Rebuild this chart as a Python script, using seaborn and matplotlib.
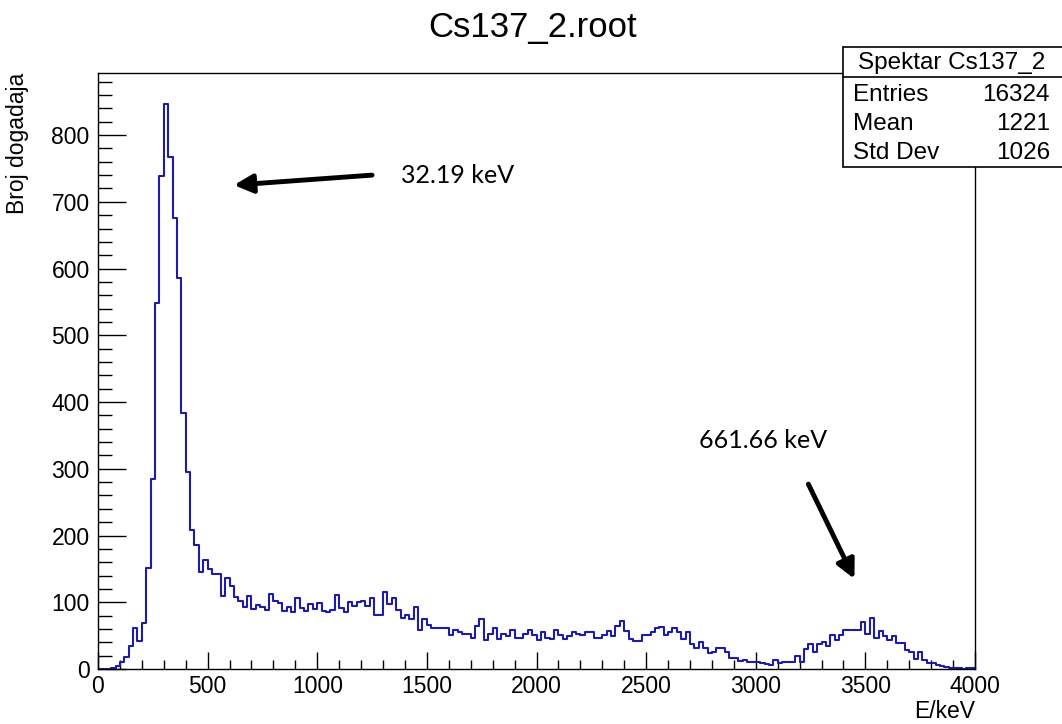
import numpy as np
import pandas as pd
import matplotlib
matplotlib.use("Agg")
import matplotlib.pyplot as plt
from matplotlib.patches import Rectangle
from matplotlib.lines import Line2D
import seaborn as sns

# 200 bins of 20 keV from 0 to 4000
bin_width = 20
centers = np.arange(0, 4000, bin_width) + bin_width / 2

# counts, one per bin
counts = [
    0, 0, 0, 2, 5, 10, 18, 34, 62, 42,
    69, 151, 284, 548, 739, 847, 767, 675, 586, 384,
    295, 208, 186, 145, 164, 150, 143, 143, 110, 136,
    124, 108, 102, 93, 110, 90, 96, 93, 88, 113,
    102, 99, 87, 93, 86, 107, 91, 87, 98, 90,
    99, 87, 85, 88, 111, 91, 85, 101, 95, 100,
    102, 95, 106, 81, 81, 115, 97, 106, 88, 76,
    81, 75, 93, 59, 75, 66, 61, 62, 62, 62,
    51, 59, 55, 53, 52, 47, 64, 75, 44, 52,
    61, 45, 52, 50, 58, 46, 46, 52, 58, 51,
    43, 55, 46, 45, 58, 51, 45, 50, 56, 53,
    51, 56, 56, 47, 47, 51, 57, 50, 65, 72,
    57, 45, 42, 42, 51, 51, 55, 61, 63, 51,
    56, 62, 55, 45, 55, 37, 31, 40, 31, 24,
    26, 31, 32, 25, 17, 17, 12, 13, 11, 10,
    11, 9, 8, 6, 13, 9, 11, 11, 11, 20,
    11, 30, 37, 25, 38, 40, 34, 51, 44, 51,
    58, 58, 58, 58, 71, 52, 76, 46, 57, 50,
    43, 50, 39, 39, 29, 25, 15, 25, 14, 9,
    9, 6, 4, 3, 1, 1, 1, 0, 1, 1,
]

stat_labels = ["Entries", "Mean", "Std Dev"]
stat_values = ["16324", "1221", "1026"]

df = pd.DataFrame({"E": centers, "n": counts})

sns.set_theme(style="white")
plt.rcParams["font.family"] = ["Liberation Sans", "DejaVu Sans"]
plt.rcParams["text.color"] = "black"
plt.rcParams["axes.labelcolor"] = "black"
plt.rcParams["xtick.color"] = "black"
plt.rcParams["ytick.color"] = "black"

fig = plt.figure(figsize=(10.62, 7.24), dpi=100)
ax = fig.add_axes([98 / 1062, 55 / 724, 877 / 1062, 596 / 724])

sns.histplot(data=df, x="E", weights="n", binwidth=bin_width,
             binrange=(0, 4000), element="step", fill=False,
             color="#1c1ca8", linewidth=1.5, ax=ax)

ax.set_xlim(0, 4000)
ax.set_ylim(0, 893)
ax.set_xticks(np.arange(0, 4001, 500))
ax.set_xticks(np.arange(0, 4001, 100), minor=True)
ax.set_yticks(np.arange(0, 801, 100))
ax.set_yticks(np.arange(0, 881, 20), minor=True)
ax.tick_params(axis="x", which="major", direction="in", length=12.5, width=1,
               labelsize=16.5, pad=4, color="black", labelcolor="black")
ax.tick_params(axis="x", which="minor", direction="in", length=6.5, width=1,
               color="black")
ax.tick_params(axis="y", which="major", direction="in", length=20, width=1,
               labelsize=16.5, pad=6, color="black", labelcolor="black")
ax.tick_params(axis="y", which="minor", direction="in", length=10, width=1,
               color="black")
ax.tick_params(bottom=True, left=True, which="both")
for s in ax.spines.values():
    s.set_color("black")
    s.set_linewidth(1)

ax.set_xlabel("E/keV", fontsize=16.5, loc="right", labelpad=2, color="black")
ax.set_ylabel("Broj dogadaja", fontsize=16.5, loc="top", labelpad=16,
              color="black")

fig.text(533 / 1062, 1 - 28 / 724, "Cs137_2.root", ha="center", va="center",
         fontsize=25, color="black")

# annotations
ax.annotate("", xy=(620, 725), xytext=(1250, 740),
            arrowprops=dict(arrowstyle="-|>", lw=3.5, color="black",
                            mutation_scale=28, shrinkA=0, shrinkB=0))
ax.text(1380, 740, "32.19 keV", fontsize=18, family=["Lato", "DejaVu Sans"],
        va="center", ha="left", color="black")
ax.annotate("", xy=(3450, 135), xytext=(3240, 277),
            arrowprops=dict(arrowstyle="-|>", lw=3.5, color="black",
                            mutation_scale=28, shrinkA=0, shrinkB=0))
ax.text(2740, 343, "661.66 keV", fontsize=18, family=["Lato", "DejaVu Sans"],
        va="center", ha="left", color="black")

# stats box (figure pixels, y from top)
def fy(py):
    return 1 - py / 724

box = Rectangle((843 / 1062, fy(167)), 230 / 1062, 120 / 724,
                transform=fig.transFigure, facecolor="white",
                edgecolor="black", linewidth=1.2, zorder=5)
fig.add_artist(box)
fig.add_artist(Line2D([843 / 1062, 1.0], [fy(77), fy(77)],
                      transform=fig.transFigure, color="black", lw=1.2,
                      zorder=6))
fig.text(952 / 1062, fy(63), "Spektar Cs137_2", ha="center", va="center",
         fontsize=17.5, zorder=7, color="black")
for i, (lab, val) in enumerate(zip(stat_labels, stat_values)):
    yy = fy(95 + 29 * i)
    fig.text(853 / 1062, yy, lab, ha="left", va="center", fontsize=17.5,
             zorder=7, color="black")
    fig.text(1050 / 1062, yy, val, ha="right", va="center", fontsize=17.5,
             zorder=7, color="black")

fig.savefig("out.png", dpi=100, facecolor="white")
